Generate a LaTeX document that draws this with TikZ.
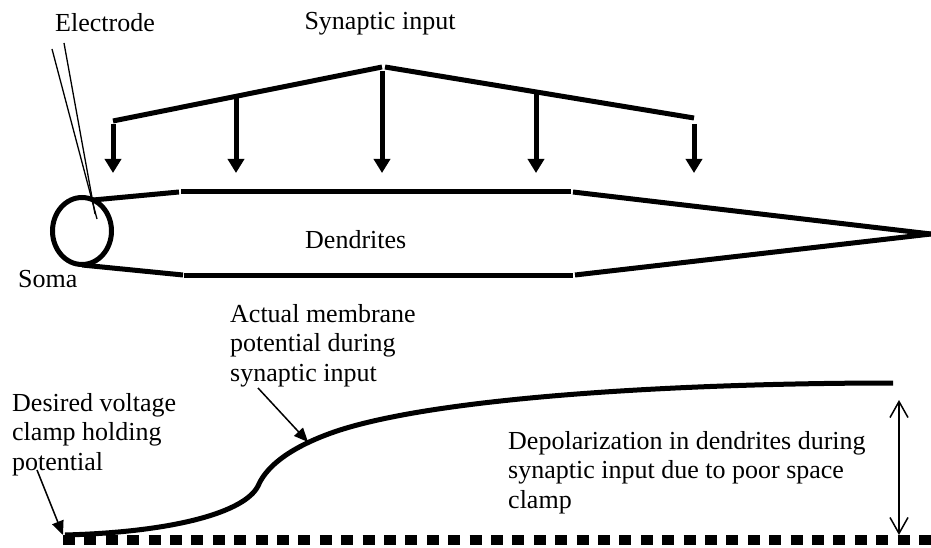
\documentclass[tikz,border=0pt]{standalone}
\usepackage{fontspec}
\setmainfont{Liberation Serif}
\usetikzlibrary{arrows.meta,shapes.geometric}
\begin{document}
\begin{tikzpicture}[x=1pt,y=-1pt,
  lbl/.style={inner sep=0pt, font=\fontsize{26}{29.5}\selectfont, align=left},
  outline/.style={line width=5pt},
  thin/.style={line width=1.3pt},
  synarrow/.style={line width=5pt, -{Triangle[width=16pt,length=14pt]}},
  ptr/.style={line width=1.5pt, -{Triangle[width=12pt,length=14pt]}},
  dbl/.style={line width=1.5pt, {Straight Barb[width=18pt,length=16pt]}-{Straight Barb[width=18pt,length=16pt]}},
  clampline/.style={line width=10pt, dash pattern=on 12pt off 9.4pt}]
\useasboundingbox (0,0) rectangle (931,548);

% labels (multi-line nodes: base = baseline of last line)
\node[lbl, anchor=base west] (electrode) at (55,32) {Electrode};
\node[lbl, anchor=base] (synin) at (380,30) {Synaptic input};
\node[lbl, anchor=base west] (dend) at (305,248) {Dendrites};
\node[lbl, anchor=base west] (somalbl) at (18,287) {Soma};
\node[lbl, anchor=base west] (actual) at (230,381) {Actual membrane\\potential during\\synaptic input};
\node[lbl, anchor=base west] (desired) at (12,470) {Desired voltage\\clamp holding\\potential};
\node[lbl, anchor=base west] (depol) at (508,508) {Depolarization in dendrites during\\synaptic input due to poor space\\clamp};

% soma
\node[draw, outline, ellipse, minimum width=59pt, minimum height=67pt, inner sep=0pt] (soma) at (82,231) {};

% electrode
\coordinate (e1a) at (52,49);  \coordinate (e1b) at (97,219);
\coordinate (e2a) at (64,43);  \coordinate (e2b) at (95,214);
\draw[thin] (e1a) -- (e1b);
\draw[thin] (e2a) -- (e2b);

% dendrite outline
\coordinate (t0) at (93,200); \coordinate (t1) at (179,192); \coordinate (t2) at (571,192);
\coordinate (tip) at (931,234);
\coordinate (b0) at (82,265); \coordinate (b1) at (183,275); \coordinate (b2) at (573,275);
\draw[outline] (t0) -- (t1);
\draw[outline] ([xshift=2pt]t1) -- (t2);
\draw[outline] ([xshift=2pt]t2) -- (tip);
\draw[outline] (b0) -- (b1);
\draw[outline] ([xshift=1pt]b1) -- (b2);
\draw[outline] ([xshift=2pt]b2) -- (tip);

% synaptic input tree
\coordinate (apex) at (382,67);
\coordinate (lc) at (113,121);
\coordinate (rc) at (694,118);
\coordinate (ltop) at (113,124);
\coordinate (rtop) at (694,124);
\coordinate (s2) at (236,97);
\coordinate (s3) at (382,71);
\coordinate (s4) at (536,93);
\draw[outline] (lc) -- (apex);
\draw[outline] ([xshift=3pt]apex) -- (rc);
\coordinate (a1) at (113,173);
\coordinate (a2) at (236,173);
\coordinate (a3) at (382,173);
\coordinate (a4) at (536,173);
\coordinate (a5) at (694,173);
\draw[synarrow] (ltop) -- (a1);
\draw[synarrow] (s2) -- (a2);
\draw[synarrow] (s3) -- (a3);
\draw[synarrow] (s4) -- (a4);
\draw[synarrow] (rtop) -- (a5);

% holding potential (dashed)
\coordinate (h0) at (63,540);
\coordinate (h1) at (931,540);
\draw[clampline] (h0) -- (h1);

% membrane potential curve
\coordinate (c0) at (65,535);
\coordinate (c1) at (258,486);
\coordinate (c2) at (340,430);
\coordinate (c3) at (893,383);
\draw[outline] (c0) .. controls (175,532) and (245,512) .. (c1)
  .. controls (268,462) and (300,443) .. (c2)
  .. controls (450,395) and (700,383) .. (c3);

% pointers
\coordinate (p1s) at (258,388); \coordinate (p1e) at (308,442);
\draw[ptr] (p1s) -- (p1e);
\coordinate (p2s) at (37,470); \coordinate (p2e) at (63,535);
\draw[ptr] (p2s) -- (p2e);

% depolarization double arrow
\coordinate (d0) at (899,400); \coordinate (d1) at (899,535);
\draw[dbl] (d0) -- (d1);
\end{tikzpicture}
\end{document}
